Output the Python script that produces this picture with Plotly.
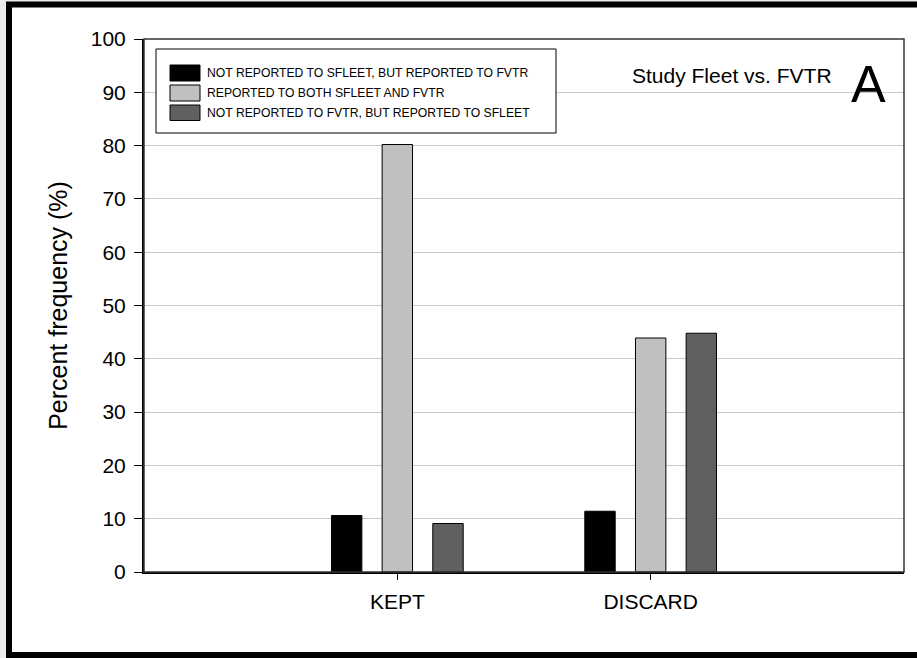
import plotly.graph_objects as go

categories = ["KEPT", "DISCARD"]
series_names = [
    "NOT REPORTED TO SFLEET, BUT REPORTED TO FVTR",
    "REPORTED TO BOTH SFLEET AND FVTR",
    "NOT REPORTED TO FVTR, BUT REPORTED TO SFLEET",
]
not_sfleet_but_fvtr = [10.6, 11.4]
both_sfleet_fvtr = [80.2, 43.9]
not_fvtr_but_sfleet = [9.1, 44.8]
series_colors = ["#000000", "#c0c0c0", "#606060"]
y_ticks = [0, 10, 20, 30, 40, 50, 60, 70, 80, 90, 100]

W, H = 917, 658
L, R, T, B = 144, 13, 39, 86
PW, PH = W - L - R, H - T - B

def px(x):
    return (x - L) / PW

def py(y):
    return (H - B - y) / PH

FONT = "Arial, Liberation Sans, sans-serif"

fig = go.Figure()
for name, vals, col in zip(series_names,
                           [not_sfleet_but_fvtr, both_sfleet_fvtr, not_fvtr_but_sfleet],
                           series_colors):
    fig.add_trace(go.Bar(
        x=categories, y=vals, name=name,
        marker=dict(color=col, line=dict(color="#000000", width=1)),
        showlegend=False,
    ))

shapes = []
# outer frame
shapes.append(dict(type="rect", xref="paper", yref="paper",
                   x0=px(9), x1=px(930), y0=py(655), y1=py(4.5),
                   line=dict(color="#000000", width=6), fillcolor="#ffffff",
                   layer="below"))
# plot box (top/right thinner)
shapes.append(dict(type="rect", xref="paper", yref="paper",
                   x0=0, x1=1, y0=0, y1=1,
                   line=dict(color="#333333", width=1.5), layer="above"))
# legend box
shapes.append(dict(type="rect", xref="paper", yref="paper",
                   x0=px(156), x1=px(556), y0=py(133), y1=py(49),
                   line=dict(color="#000000", width=1), fillcolor="#ffffff",
                   layer="above"))
annotations = []
row_y = [(65, 81), (85, 101), (105, 120.5)]
for (y0, y1), name, col in zip(row_y, series_names, series_colors):
    shapes.append(dict(type="rect", xref="paper", yref="paper",
                       x0=px(170), x1=px(200), y0=py(y1), y1=py(y0),
                       line=dict(color="#000000", width=1), fillcolor=col,
                       layer="above"))
    annotations.append(dict(xref="paper", yref="paper", x=px(205), y=py((y0 + y1) / 2),
                            text=name, showarrow=False, xanchor="left", yanchor="middle",
                            font=dict(family=FONT, size=12.2, color="#000000")))

annotations.append(dict(xref="paper", yref="paper", x=px(834), y=py(75),
                        text="Study Fleet vs. FVTR", showarrow=False,
                        xanchor="right", yanchor="middle",
                        font=dict(family=FONT, size=21, color="#000000")))
annotations.append(dict(xref="paper", yref="paper", x=px(868), y=py(84),
                        text="A", showarrow=False,
                        xanchor="center", yanchor="middle",
                        font=dict(family=FONT, size=52, color="#000000")))

fig.update_layout(
    width=W, height=H,
    margin=dict(l=L, r=R, t=T, b=B, pad=0),
    paper_bgcolor="#ececec",
    plot_bgcolor="#ffffff",
    barmode="group", bargap=0.4, bargroupgap=0.4,
    font=dict(family=FONT, color="#000000"),
    shapes=shapes, annotations=annotations,
    showlegend=False,
    xaxis=dict(type="category", range=[-1, 2], showgrid=False,
               showline=True, linecolor="#000000", linewidth=2,
               ticks="outside", ticklen=6, tickwidth=1, tickcolor="#000000",
               tickfont=dict(family=FONT, size=21, color="#000000"),
               ticklabelstandoff=4, zeroline=False, fixedrange=True),
    yaxis=dict(range=[0, 100], tickvals=y_ticks,
               showgrid=True, gridcolor="#c8c8c8", gridwidth=1,
               showline=True, linecolor="#000000", linewidth=2,
               ticks="outside", ticklen=8, tickwidth=1, tickcolor="#000000",
               tickfont=dict(family=FONT, size=21, color="#000000"),
               ticklabelstandoff=4, zeroline=False,
               title=dict(text="Percent frequency (%)", standoff=16,
                          font=dict(family=FONT, size=25, color="#000000"))),
)

fig.write_html("out.html")
